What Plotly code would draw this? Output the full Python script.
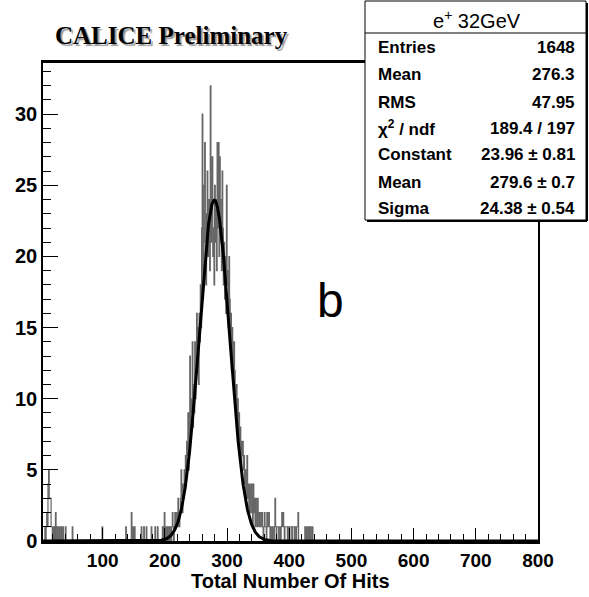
import numpy as np
import plotly.graph_objects as go

# ---------------- data ----------------
n_bins = 800
x_lo, x_hi = 0, 800

# sparse low / isolated bins: bin index -> count
low_bins = [7, 9, 10, 11, 12, 13, 14, 15, 16, 17, 18, 20, 22, 24, 25, 27, 30, 33,
            36, 40, 51, 99, 137, 146, 149, 151, 162, 166, 170, 178, 184, 188]
low_counts = [1, 1, 2, 1, 4, 5, 3, 3, 3, 1, 1, 1, 1, 2, 1, 1, 1, 1,
              1, 1, 1, 1, 1, 2, 1, 1, 1, 1, 1, 1, 1, 1]

# contiguous peak region, starting at bin 196
peak_start = 196
peak_counts = [
    1, 0, 0, 2, 1, 0, 1, 1, 0, 1,          # 196-205
    1, 0, 1, 1, 0, 1, 2, 1, 0, 1,          # 206-215
    2, 1, 1, 2, 1, 3, 2, 1, 2, 3,          # 216-225
    5, 3, 2, 4, 3, 5, 4, 6, 5, 7,          # 226-235
    6, 9, 5, 8, 13, 7, 10, 9, 14, 8,       # 236-245
    11, 9, 14, 10, 12, 16, 13, 15, 11, 16, # 246-255
    14, 18, 15, 22, 30, 17, 19, 25, 28, 21,  # 256-265
    18, 23, 26, 20, 22, 24, 19, 32, 21, 23,  # 266-275
    27, 20, 22, 18, 25, 21, 24, 19, 28, 22,  # 276-285
    28, 20, 27, 24, 21, 19, 26, 22, 18, 21,  # 286-295
    17, 20, 16, 25, 19, 18, 15, 20, 17, 14,  # 296-305
    16, 12, 15, 13, 11, 14, 12, 10, 9, 11,   # 306-315
    8, 10, 7, 9, 6, 8, 5, 7, 6, 7,           # 316-325
    5, 6, 4, 5, 3, 4, 6, 3, 4, 2,            # 326-335
    4, 3, 2, 4, 3, 1, 4, 2, 3, 1,            # 336-345
    3, 2, 1, 3, 2, 1, 2, 2, 1, 1,            # 346-355
    2, 1, 0, 1, 2, 1, 1, 0, 2, 1,            # 356-365
    1, 2, 1, 0, 1, 1, 0, 1, 1, 0,            # 366-375
    1, 3, 1, 0, 1, 1, 1, 0, 1, 1,            # 376-385
    0, 1, 2, 1, 2, 1, 0, 1, 1, 1,            # 386-395
    1, 0, 1, 1, 0, 1, 1, 1, 0, 1,            # 396-405
    1, 1, 0, 1, 1, 0, 1, 1, 2, 0,            # 406-415
    0, 0, 0, 0, 0, 0, 0, 0, 0, 1,            # 416-425
    1, 0, 1, 1, 0, 1, 0, 1, 1, 0, 0, 1,      # 426-437
]

# fit / statistics box values
stat_title = "e<sup>+</sup> 32GeV"
stat_labels = ["Entries", "Mean", "RMS", "χ<sup>2</sup> / ndf", "Constant", "Mean", "Sigma"]
stat_values = ["1648", "276.3", "47.95", "189.4 / 197", "23.96 ± 0.81", "279.6 ± 0.7", "24.38 ± 0.54"]
fit_constant, fit_mean, fit_sigma = 23.96, 279.6, 24.38

x_tick_vals = [100, 200, 300, 400, 500, 600, 700, 800]
y_tick_vals = [0, 5, 10, 15, 20, 25, 30]

# ---------------- build histogram ----------------
counts = np.zeros(n_bins)
for b, c in zip(low_bins, low_counts):
    counts[b] = c
counts[peak_start:peak_start + len(peak_counts)] = peak_counts
edges = np.linspace(x_lo, x_hi, n_bins + 1)
step_y = np.append(counts, counts[-1])

xf = np.linspace(x_lo, x_hi, 1601)
yf = fit_constant * np.exp(-0.5 * ((xf - fit_mean) / fit_sigma) ** 2)

fig = go.Figure()
fig.add_trace(go.Scatter(x=edges, y=step_y, mode="lines", line_shape="hv",
                         line=dict(color="#666666", width=1.2), hoverinfo="skip",
                         showlegend=False))
fig.add_trace(go.Scatter(x=xf, y=yf, mode="lines",
                         line=dict(color="black", width=3), showlegend=False))

# ---------------- layout ----------------
W, H = 589, 597
ml, mr, mt, mb = 43, 51, 63, 56
pw, ph = W - ml - mr, H - mt - mb
ymax = counts.max() * 1.05


def px2x(px):
    return (px - ml) / pw


def py2y(py):
    return (H - mb - py) / ph


tickfont = dict(family="Liberation Sans, Arial, sans-serif", size=19, color="black", weight="bold")

fig.update_layout(
    width=W, height=H,
    margin=dict(l=ml, r=mr, t=mt, b=mb),
    paper_bgcolor="white", plot_bgcolor="white",
    xaxis=dict(range=[4, 800], tickvals=x_tick_vals, ticks="inside", ticklen=13,
               tickwidth=1, tickcolor="black", showgrid=False, zeroline=False,
               showline=True, linecolor="black", linewidth=2.5, mirror=True,
               minor=dict(dtick=20, tick0=0, ticks="inside", ticklen=7, tickcolor="black",
                          showgrid=False),
               tickfont=tickfont),
    yaxis=dict(range=[0, ymax], tickvals=y_tick_vals, ticks="inside", ticklen=15,
               tickwidth=1, tickcolor="black", showgrid=False, zeroline=False,
               showline=True, linecolor="black", linewidth=1.5, mirror=True,
               minor=dict(dtick=1, tick0=0, ticks="inside", ticklen=8, tickcolor="black",
                          showgrid=False),
               tickfont=dict(family="Liberation Sans, Arial, sans-serif", size=20,
                             color="black", weight="bold")),
)

annotations = []
# x-axis title
annotations.append(dict(text="Total Number Of Hits", xref="paper", yref="paper",
                        x=0.5, y=py2y(581), xanchor="center", yanchor="middle",
                        showarrow=False,
                        font=dict(family="Liberation Sans, Arial, sans-serif", size=20,
                                  color="black", weight="bold")))
# title
annotations.append(dict(text="CALICE Preliminary", xref="paper", yref="paper",
                        x=px2x(53), y=py2y(36), xanchor="left", yanchor="middle",
                        showarrow=False,
                        font=dict(family="Liberation Serif, Times New Roman, serif", size=25,
                                  color="black", weight="bold",
                                  shadow="2px 2px 1px #9a9a9a")))
# label b
annotations.append(dict(text="b", xref="paper", yref="paper",
                        x=px2x(330), y=py2y(300), xanchor="center", yanchor="middle",
                        showarrow=False,
                        font=dict(family="Liberation Sans, Arial, sans-serif", size=48,
                                  color="black")))

# stat box
bx0, bx1, by0, by1 = 365, 586, 1, 220
shapes = [
    dict(type="rect", xref="paper", yref="paper", x0=px2x(bx0), x1=px2x(bx1),
         y0=py2y(by1), y1=py2y(by0), fillcolor="white", line=dict(color="black", width=1),
         layer="above"),
    dict(type="line", xref="paper", yref="paper", x0=px2x(bx0), x1=px2x(bx1),
         y0=py2y(33), y1=py2y(33), line=dict(color="black", width=1), layer="above"),
    dict(type="line", xref="paper", yref="paper", x0=px2x(bx0 + 2), x1=px2x(bx1 + 1),
         y0=py2y(by1 + 1), y1=py2y(by1 + 1), line=dict(color="black", width=2), layer="above"),
    dict(type="line", xref="paper", yref="paper", x0=px2x(bx1 + 1), x1=px2x(bx1 + 1),
         y0=py2y(by1 + 1), y1=py2y(by0 + 2), line=dict(color="black", width=2), layer="above"),
]
statfont = dict(family="Liberation Sans, Arial, sans-serif", size=17, color="black", weight="bold")
annotations.append(dict(text=stat_title, xref="paper", yref="paper",
                        x=px2x(477), y=py2y(19), xanchor="center", yanchor="middle",
                        showarrow=False,
                        font=dict(family="Liberation Sans, Arial, sans-serif", size=20,
                                  color="black")))
row_y = [48, 75, 102, 128, 155, 182, 208]
for lab, val, ry in zip(stat_labels, stat_values, row_y):
    annotations.append(dict(text=lab, xref="paper", yref="paper", x=px2x(376), y=py2y(ry),
                            xanchor="left", yanchor="middle", showarrow=False, font=statfont))
    annotations.append(dict(text=val, xref="paper", yref="paper", x=px2x(577), y=py2y(ry),
                            xanchor="right", yanchor="middle", showarrow=False, font=statfont))

fig.update_layout(annotations=annotations, shapes=shapes)
fig.write_html("out.html", config={"displayModeBar": False},
               post_script="document.body.style.margin='0px';document.body.style.overflow='hidden';")
